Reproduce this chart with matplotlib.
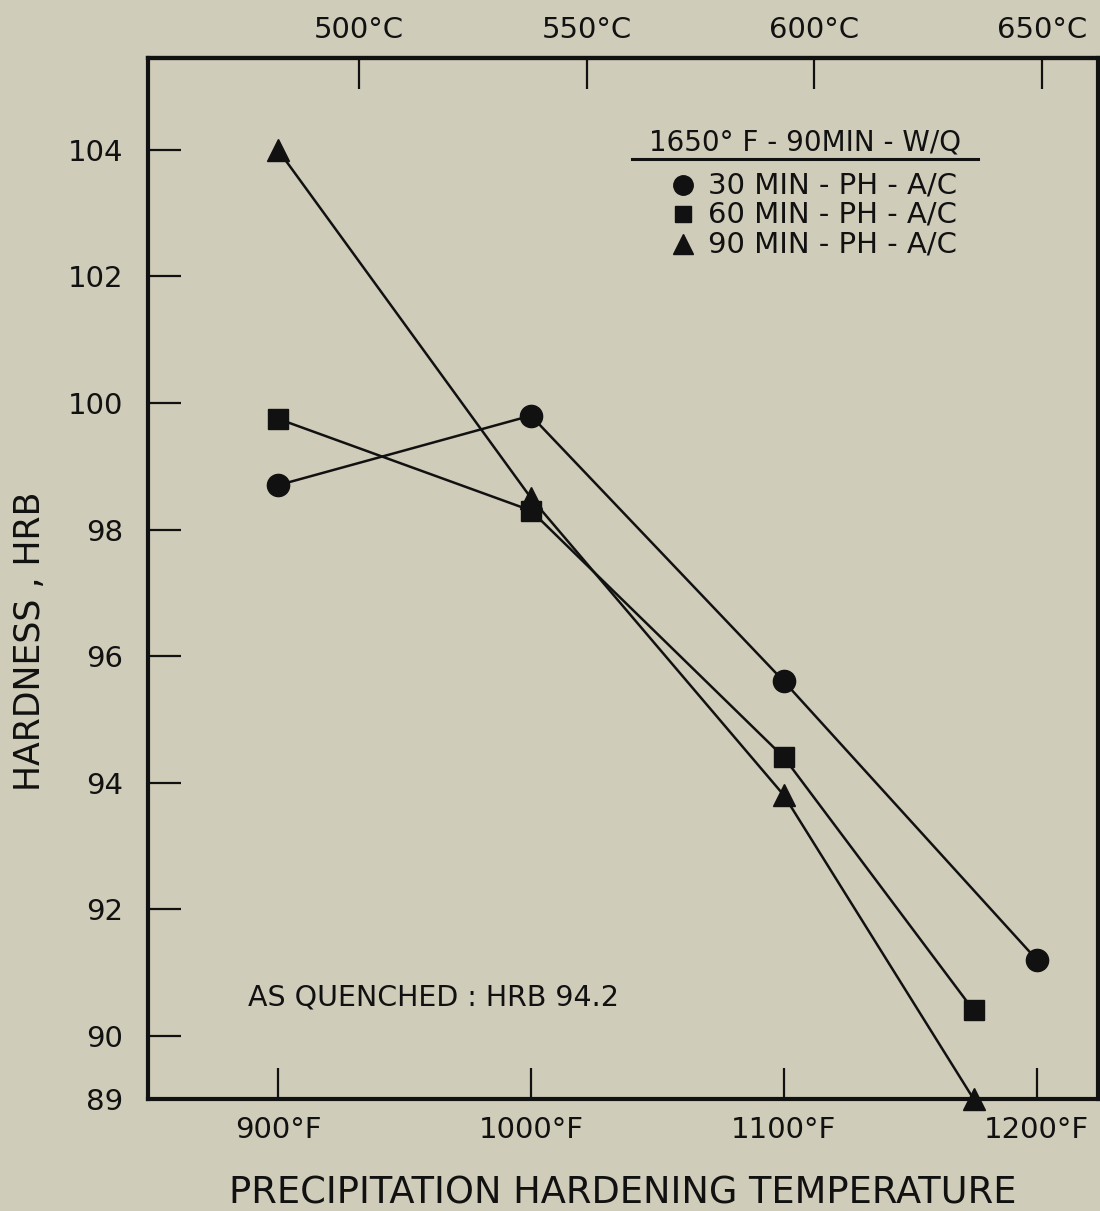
import matplotlib
matplotlib.use("Agg")
import matplotlib.pyplot as plt

# Precipitation hardening temperature (°F) and hardness (HRB)
temp_30 = [900, 1000, 1100, 1200]
hrb_30 = [98.7, 99.8, 95.6, 91.2]

temp_60 = [900, 1000, 1100, 1175]
hrb_60 = [99.75, 98.3, 94.4, 90.4]

temp_90 = [900, 1000, 1100, 1175]
hrb_90 = [104.0, 98.5, 93.8, 89.0]

x_ticks_f = [900, 1000, 1100, 1200]
x_tick_labels = ["900°F", "1000°F", "1100°F", "1200°F"]
y_ticks = [89, 90, 92, 94, 96, 98, 100, 102, 104]
y_tick_labels = ["89", "90", "92", "94", "96", "98", "100", "102", "104"]
c_ticks = [500, 550, 600, 650]
c_tick_labels = ["500°C", "550°C", "600°C", "650°C"]

series_labels = ["30 MIN - PH - A/C", "60 MIN - PH - A/C", "90 MIN - PH - A/C"]
series_markers = ["o", "s", "^"]
legend_title = "1650° F - 90MIN - W/Q"
note = "AS QUENCHED : HRB 94.2"

bg = "#d0ccba"
ink = "#111111"

plt.rcParams["font.family"] = ["DejaVu Sans"]

fig = plt.figure(figsize=(11, 12.11), dpi=100, facecolor=bg)
ax = fig.add_axes([0.1345, 0.0925, 0.8635, 0.8595], facecolor=bg)

lw = 1.8
ax.plot(temp_30, hrb_30, color=ink, lw=lw, marker="o", ms=16, clip_on=False, zorder=3)
ax.plot(temp_60, hrb_60, color=ink, lw=lw, marker="s", ms=14, clip_on=False, zorder=3)
ax.plot(temp_90, hrb_90, color=ink, lw=lw, marker="^", ms=16, clip_on=False, zorder=3)

ax.set_xlim(848.6, 1224.1)
ax.set_ylim(89.05, 105.45)

ax.set_xticks(x_ticks_f)
ax.set_xticklabels(x_tick_labels, fontsize=21)
ax.set_yticks(y_ticks)
ax.set_yticklabels(y_tick_labels, fontsize=21)
ax.tick_params(axis="x", direction="in", length=22, width=1.6, pad=12, colors=ink)
ax.tick_params(axis="y", direction="in", length=24, width=1.6, pad=18, colors=ink)

for s in ax.spines.values():
    s.set_linewidth(3)
    s.set_color(ink)

ax.set_xlabel("PRECIPITATION HARDENING TEMPERATURE", fontsize=26.5, labelpad=22, color=ink)
ax.set_ylabel("HARDNESS , HRB", fontsize=25, color=ink)
ax.yaxis.set_label_coords(-0.106, 0.44)

# Celsius scale on top
secax = ax.secondary_xaxis("top", functions=(lambda f: (f - 32) * 5 / 9,
                                             lambda c: c * 9 / 5 + 32))
secax.set_xticks(c_ticks)
secax.set_xticklabels(c_tick_labels, fontsize=21)
secax.tick_params(direction="in", length=22, width=1.6, pad=10, colors=ink)
secax.spines["top"].set_linewidth(3)

# Key: heat-treatment title, underline and one row per series
ax.text(0.6916, 0.919, legend_title, transform=ax.transAxes, fontsize=20,
        color=ink, va="center", ha="center")
ax.plot([0.5095, 0.8737], [0.903, 0.903], transform=ax.transAxes, color=ink,
        lw=2.2, clip_on=False)
row_y = [0.878, 0.850, 0.821]
marker_sizes = [14, 12, 14]
for y, m, ms, lab in zip(row_y, series_markers, marker_sizes, series_labels):
    ax.plot([0.563], [y], transform=ax.transAxes, ls="none", marker=m,
            ms=ms, color=ink, clip_on=False)
    ax.text(0.5895, y, lab, transform=ax.transAxes, fontsize=21, color=ink,
            va="center", ha="left")

ax.text(888, 90.6, note, fontsize=20.5, color=ink, va="center", ha="left")

fig.savefig("out.png", dpi=100, facecolor=bg)
